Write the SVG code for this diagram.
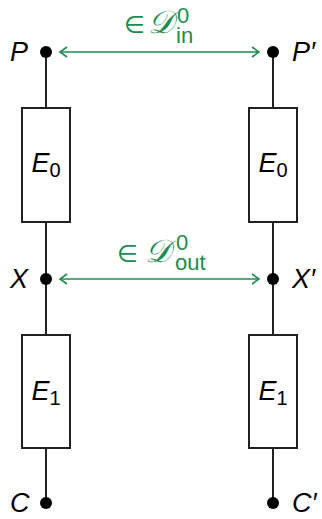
<svg xmlns="http://www.w3.org/2000/svg" width="322" height="519" viewBox="0 0 322 519">
<style>
.w{stroke:#222;stroke-width:2;fill:none}
.box{stroke:#222;stroke-width:2;fill:#fff}
.dot{fill:#000}
.lab{font-family:"Liberation Sans",Arial,sans-serif;font-style:italic;font-size:27px;fill:#000}
.sub{font-family:"Liberation Sans",Arial,sans-serif;font-style:normal;font-size:20px}
.g{stroke:#1e8c4e;stroke-width:1.6;fill:none}
.gt{font-family:"Liberation Sans",Arial,sans-serif;font-size:22px;fill:#1e8c4e}
.el{font-family:"DejaVu Sans",sans-serif;font-size:24px}
.cal{font-family:"DejaVu Serif","Liberation Serif",serif;font-style:italic;font-size:32px}
</style>
<defs>
<marker id="ah" markerWidth="10" markerHeight="12" refX="8" refY="6" orient="auto-start-reverse" markerUnits="userSpaceOnUse">
<path d="M1,1 L8,6 L1,11" fill="none" stroke="#1e8c4e" stroke-width="1.6"/>
</marker>
</defs>
<g id="wires">
<line class="w" x1="46" y1="52" x2="46" y2="108"/>
<line class="w" x1="46" y1="222" x2="46" y2="335"/>
<line class="w" x1="46" y1="448" x2="46" y2="503"/>
<line class="w" x1="273" y1="52" x2="273" y2="108"/>
<line class="w" x1="273" y1="222" x2="273" y2="335"/>
<line class="w" x1="273" y1="448" x2="273" y2="503"/>
</g>
<g id="connectors">
<line class="g" x1="60" y1="52" x2="259" y2="52" marker-start="url(#ah)" marker-end="url(#ah)"/>
<line class="g" x1="60" y1="279" x2="259" y2="279" marker-start="url(#ah)" marker-end="url(#ah)"/>
<text class="gt el" x="124" y="33">∈</text>
<text class="gt cal" x="148" y="33">𝒟</text>
<text class="gt" x="177" y="23" font-size="17">0</text>
<text class="gt" x="176" y="43" font-size="20">in</text>
<text class="gt el" x="117" y="262">∈</text>
<text class="gt cal" x="145" y="262">𝒟</text>
<text class="gt" x="176" y="250" font-size="17">0</text>
<text class="gt" x="175" y="270" font-size="20">out</text>
</g>
<g id="E0L"><rect class="box" x="22" y="108" width="48" height="114"/><text class="lab" x="46" y="172" text-anchor="middle">E<tspan class="sub" dy="5">0</tspan></text></g>
<g id="E1L"><rect class="box" x="22" y="335" width="48" height="113"/><text class="lab" x="46" y="400" text-anchor="middle">E<tspan class="sub" dy="5">1</tspan></text></g>
<g id="E0R"><rect class="box" x="249" y="108" width="48" height="114"/><text class="lab" x="273" y="172" text-anchor="middle">E<tspan class="sub" dy="5">0</tspan></text></g>
<g id="E1R"><rect class="box" x="249" y="335" width="48" height="113"/><text class="lab" x="273" y="400" text-anchor="middle">E<tspan class="sub" dy="5">1</tspan></text></g>
<g id="P"><circle class="dot" cx="46" cy="52" r="6"/><text class="lab" x="10" y="61">P</text></g>
<g id="Pp"><circle class="dot" cx="273" cy="52" r="6"/><text class="lab" x="292" y="61">P′</text></g>
<g id="X"><circle class="dot" cx="46" cy="279" r="6"/><text class="lab" x="10" y="288">X</text></g>
<g id="Xp"><circle class="dot" cx="273" cy="279" r="6"/><text class="lab" x="292" y="288">X′</text></g>
<g id="C"><circle class="dot" cx="46" cy="503" r="6"/><text class="lab" x="10" y="512">C</text></g>
<g id="Cp"><circle class="dot" cx="273" cy="503" r="6"/><text class="lab" x="292" y="512">C′</text></g>
</svg>
